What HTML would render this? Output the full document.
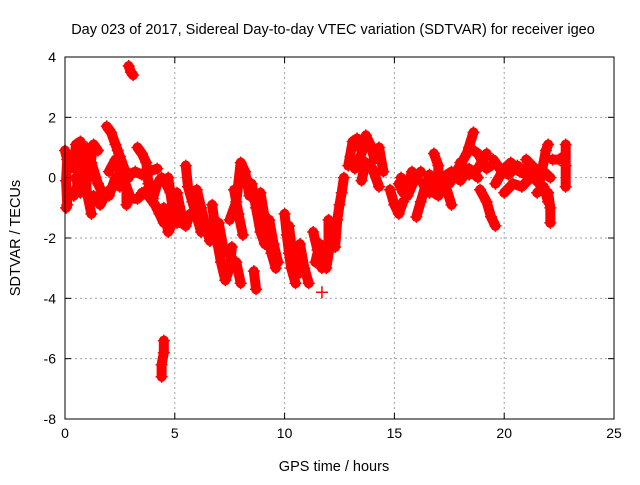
<!DOCTYPE html>
<html><head><meta charset="utf-8"><style>
body{margin:0;background:#fff}
svg{font-family:"Liberation Sans",sans-serif;}
</style></head><body>
<svg id="chart" width="640" height="480" xmlns="http://www.w3.org/2000/svg">
<rect width="640" height="480" fill="#fff"/>
<text x="333" y="34" font-size="14.5" text-anchor="middle">Day 023 of 2017, Sidereal Day-to-day VTEC variation (SDTVAR) for receiver igeo</text>
<text x="334" y="471" font-size="14.5" text-anchor="middle">GPS time / hours</text>
<text transform="translate(20,238) rotate(-90)" font-size="14.5" text-anchor="middle">SDTVAR / TECUs</text>
<g id="grid"></g><g id="marks"></g><g id="axes"></g>
</svg>
<script>
const xTicks=[0,5,10,15,20,25];
const yTicks=[-8,-6,-4,-2,0,2,4];
const tracks=[
[[0,0.9],[0.1,0.6],[0.05,-0.1],[0.1,-0.9],[0.05,-1.0]],
[[0.4,0.3],[0.5,1.1],[0.7,1.2],[0.9,0.2],[1.0,-0.5],[1.2,-1.2]],
[[0.5,0],[0.7,-0.5],[0.9,-0.4],[1.1,0.2],[1.3,1.1],[1.5,0.9]],
[[0.4,-0.6],[0.6,-0.2],[0.8,0.6],[1.0,1.0],[1.1,0.6]],
[[1.0,0.8],[1.2,0.5],[1.5,-0.2],[1.7,-0.5],[2.0,-0.6],[2.3,0]],
[[1.3,-0.6],[1.6,-0.9],[1.9,-0.5],[2.2,-0.3],[2.5,0.1]],
[[1.9,1.7],[2.1,1.5],[2.3,1.1],[2.5,0.7],[2.7,0.3],[2.9,0]],
[[2.4,0.9],[2.6,0.3],[2.8,-0.4],[2.8,-0.9]],
[[2.9,3.7],[3.0,3.5],[3.1,3.4]],
[[2.0,0.2],[2.3,0.6],[2.7,-0.1],[3.0,-0.7],[3.3,-0.7],[3.6,-0.5],[3.9,-0.3]],
[[2.5,-0.3],[2.9,0.1],[3.2,0.2],[3.5,0.1],[3.8,0.2],[4.2,0.3]],
[[3.3,1.0],[3.5,0.8],[3.7,0.5],[3.8,-0.2]],
[[3.5,-0.5],[3.8,-0.6],[4.1,-0.9],[4.3,-1.2],[4.5,-1.5]],
[[4.0,-0.7],[4.2,-0.2],[4.4,0],[4.6,-0.2],[4.8,-0.5]],
[[4.5,-5.4],[4.5,-5.8],[4.4,-6.2],[4.4,-6.6]],
[[4.7,0],[4.9,-1],[5.1,-1.5],[5.3,-1.5]],
[[4.5,-1.0],[4.7,-1.8],[4.9,-1.5]],
[[5.5,0.4],[5.6,-0.3],[5.8,-0.8],[6.0,-1.3],[6.2,-1.8]],
[[5.1,-0.5],[5.3,-1.2],[5.5,-1.6],[5.7,-1.2]],
[[6.0,-0.4],[6.2,-1.0],[6.4,-1.6],[6.6,-2.1],[6.8,-1.5]],
[[6.7,-0.9],[6.9,-2.0],[7.1,-2.8],[7.3,-3.4],[7.5,-3.0],[7.6,-2.3]],
[[7.0,-1.5],[7.2,-2.3],[7.4,-2.5]],
[[7.5,-1.4],[7.8,-0.8],[8.0,0.5],[8.2,0.2],[8.4,-0.6]],
[[7.7,-0.4],[7.9,-1.2],[8.1,-1.9]],
[[7.8,-2.8],[8.0,-3.5]],
[[8.5,-0.2],[8.7,-1.0],[8.9,-1.8],[9.1,-2.2]],
[[8.9,-0.5],[9.2,-1.8],[9.4,-2.5],[9.6,-3.0]],
[[8.6,-3.1],[8.7,-3.7]],
[[9.3,-1.4],[9.5,-2.2],[9.7,-2.8]],
[[10.0,-1.2],[10.1,-1.9],[10.2,-2.5],[10.3,-3.0],[10.5,-3.5]],
[[10.2,-1.6],[10.4,-2.8],[10.6,-3.2]],
[[10.7,-2.2],[10.9,-3.0],[11.1,-3.5]],
[[11.3,-1.8],[11.5,-2.4],[11.7,-3.0]],
[[11.4,-2.8],[11.6,-2.2]],
[[12.0,-1.4],[12.0,-2.3],[11.9,-3.0],[12.2,-1.6]],
[[11.7,-3.8]],
[[12.3,-2.3],[12.4,-1.4],[12.5,-0.9],[12.6,-0.5],[12.7,0]],
[[12.9,0.4],[13.1,1.2],[13.3,1.3],[13.5,0.9],[13.7,1.4],[13.9,1.1],[14.1,0.6],[14.3,1.0],[14.5,0.2]],
[[13.0,0.7],[13.2,0.3],[13.4,0.6],[13.6,1.0]],
[[13.5,-0.1],[13.7,0.5],[14.0,0.3],[14.3,-0.3]],
[[14.8,-0.4],[15.0,-0.9],[15.2,-1.2],[15.4,-0.8]],
[[15.2,-0.2],[15.4,-0.5],[15.6,-0.3],[15.8,0.2]],
[[15.3,0.0],[15.6,-0.6],[15.9,-0.1],[16.2,0.2]],
[[16.0,-1.3],[16.2,-0.8],[16.4,-0.3],[16.6,0.1]],
[[16.3,-0.2],[16.6,-0.5],[16.9,-0.1],[17.2,-0.4]],
[[16.8,0.8],[17.0,0.4],[17.0,-0.3]],
[[16.6,-0.4],[17.0,-0.6],[17.3,-0.2],[17.6,-0.9]],
[[17.5,-0.2],[17.9,0.3],[18.3,0.8],[18.6,1.5]],
[[17.2,0.0],[17.6,0.2],[18.0,-0.1],[18.4,0.3],[18.8,0.0]],
[[18.0,0.5],[18.4,0.1],[18.8,0.3],[19.2,0.8]],
[[18.4,1.0],[18.8,0.8],[19.2,0.3],[19.6,0.5]],
[[18.9,-0.4],[19.2,-0.8],[19.4,-1.3],[19.6,-1.6]],
[[19.5,0.6],[19.9,0.2],[20.2,0.1],[20.6,0.4]],
[[19.6,-0.2],[20.0,0.3],[20.3,0.5],[20.7,0.2],[21.0,0.1]],
[[20.0,-0.5],[20.4,-0.2],[20.8,-0.3],[21.2,0]],
[[20.8,0.3],[21.2,0.1],[21.6,-0.2],[21.9,0.9],[22.0,1.1]],
[[21.0,0.6],[21.4,0.3],[21.8,0.2],[22.1,0.0]],
[[21.5,-0.5],[21.8,-0.3],[22.0,-0.8]],
[[22.2,0.6],[22.5,0.6],[22.7,0.7]],
[[22.0,-0.5],[22.1,-1.0],[22.1,-1.5]],
[[22.8,1.1],[22.8,0.4],[22.8,-0.3]]
];
const L=65,R=614,T=57,B=419;
const xs=v=>L+(v-0)/(25-0)*(R-L);
const ys=v=>B-(v+8)/(12)*(B-T);
const NS="http://www.w3.org/2000/svg";
function mk(tag,attrs,parent){const e=document.createElementNS(NS,tag);for(const k in attrs)e.setAttribute(k,attrs[k]);parent.appendChild(e);return e;}
const grid=document.getElementById('grid'),axes=document.getElementById('axes'),marks=document.getElementById('marks');
xTicks.forEach(t=>{const x=xs(t);
 if(t>0&&t<25){const g=mk('line',{x1:x,x2:x,y1:T,y2:B,stroke:'#a0a0a0','stroke-dasharray':'2,3'},grid);
 
 }
 mk('line',{x1:x,x2:x,y1:B,y2:B-6,stroke:'#000'},axes);mk('line',{x1:x,x2:x,y1:T,y2:T+6,stroke:'#000'},axes);
 const tx=mk('text',{x:x,y:B+19,'font-size':'14','text-anchor':'middle'},axes);tx.textContent=t;
 
 });
yTicks.forEach(t=>{const y=ys(t);
 if(t>-8&&t<4){const g=mk('line',{x1:L,x2:R,y1:y,y2:y,stroke:'#a0a0a0','stroke-dasharray':'2,3'},grid);
 
 }
 mk('line',{x1:L,x2:L+6,y1:y,y2:y,stroke:'#000'},axes);mk('line',{x1:R,x2:R-6,y1:y,y2:y,stroke:'#000'},axes);
 const tx=mk('text',{x:L-9,y:y+5,'font-size':'14','text-anchor':'end'},axes);tx.textContent=t;
 
 });
const frame=mk('rect',{x:L,y:T,width:R-L,height:B-T,fill:'none',stroke:'#000'},axes);


tracks.forEach(tr=>{
 const g=mk('g',{},marks);
 
 
 mk('polyline',{points:tr.map(p=>xs(p[0])+','+ys(p[1])).join(' '),fill:'none',stroke:'#f00','stroke-width':10,'stroke-linejoin':'round','stroke-linecap':'round'},g);
 tr.forEach(p=>{const x=xs(p[0]),y=ys(p[1]);
  const m=mk('path',{d:`M${x-6},${y}H${x+6}M${x},${y-6}V${y+6}`,stroke:'#f00','stroke-width':1.5},g);
  
  });
});
</script>
</body></html>
